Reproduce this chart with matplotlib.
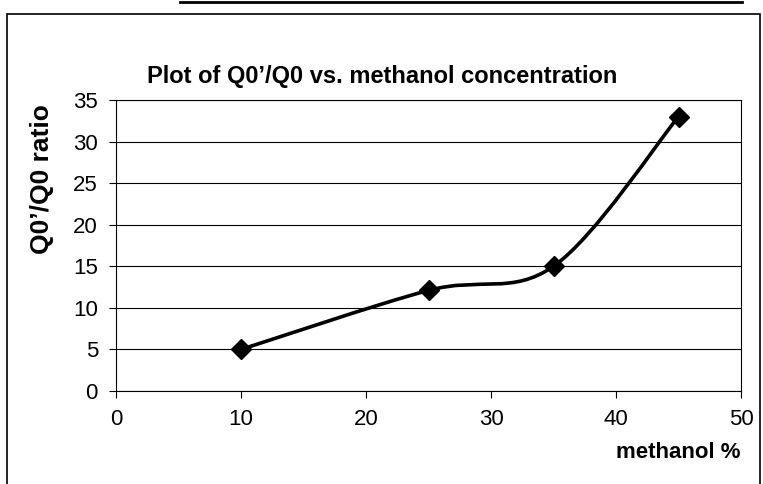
import matplotlib
matplotlib.use('Agg')
import matplotlib.pyplot as plt
from matplotlib.path import Path
from matplotlib.patches import PathPatch, Rectangle
from matplotlib.lines import Line2D

# data
methanol = [10, 25, 35, 45]
ratio = [5.0, 12.1, 15.0, 33.0]

x_ticks = [0, 10, 20, 30, 40, 50]
y_ticks = [0, 5, 10, 15, 20, 25, 30, 35]

plt.rcParams['font.family'] = ['Liberation Sans', 'DejaVu Sans']


# Excel style smoothed line: cubic bezier with catmull-rom control points
def smooth_path(xs, ys):
    pts = list(zip(xs, ys))
    verts = [pts[0]]
    codes = [Path.MOVETO]
    for i in range(len(pts) - 1):
        p0 = pts[i - 1] if i > 0 else pts[i]
        p1 = pts[i]
        p2 = pts[i + 1]
        p3 = pts[i + 2] if i + 2 < len(pts) else pts[i + 1]
        c1 = (p1[0] + (p2[0] - p0[0]) / 6, p1[1] + (p2[1] - p0[1]) / 6)
        c2 = (p2[0] - (p3[0] - p1[0]) / 6, p2[1] - (p3[1] - p1[1]) / 6)
        verts += [c1, c2, p2]
        codes += [Path.CURVE4] * 3
    return Path(verts, codes)


fig = plt.figure(figsize=(7.63, 4.84), dpi=100)
ax = fig.add_axes([116 / 763, 1 - 391 / 484, 625 / 763, 291 / 484])

ax.set_xlim(0, 50)
ax.set_ylim(0, 35)
ax.set_xticks(x_ticks)
ax.set_yticks(y_ticks)
ax.tick_params(labelsize=16, length=5, width=0.8, color='black', pad=8)
ax.grid(True, axis='y', color='black', linewidth=0.8)
ax.set_axisbelow(True)
for s in ax.spines.values():
    s.set_linewidth(0.8)
    s.set_color('black')

ax.add_patch(PathPatch(smooth_path(methanol, ratio), facecolor='none',
                       edgecolor='black', linewidth=2.6, zorder=3))
ax.plot(methanol, ratio, linestyle='none', marker='D', markersize=10,
        color='black', zorder=4)

fig.text(382 / 763, 1 - 76 / 484, "Plot of Q0’/Q0 vs. methanol concentration",
         ha='center', va='center', fontsize=17, fontweight='bold')
fig.text(42 / 763, 1 - 179 / 484, "Q0’/Q0 ratio", rotation=90,
         ha='center', va='center', fontsize=19, fontweight='bold')
fig.text(741 / 763, 1 - 453 / 484, "methanol %", ha='right', va='center',
         fontsize=16, fontweight='bold')

# chart border and the edge of the box above it
fig.add_artist(Rectangle((7 / 763, -0.05), 753 / 763, 1.05 - 14 / 484,
                         transform=fig.transFigure, fill=False,
                         edgecolor='black', linewidth=1.2))
fig.add_artist(Line2D([180 / 763, 742 / 763], [1 - 2 / 484, 1 - 2 / 484],
                      transform=fig.transFigure, color='black', linewidth=2))

fig.savefig('out.png', dpi=100)
